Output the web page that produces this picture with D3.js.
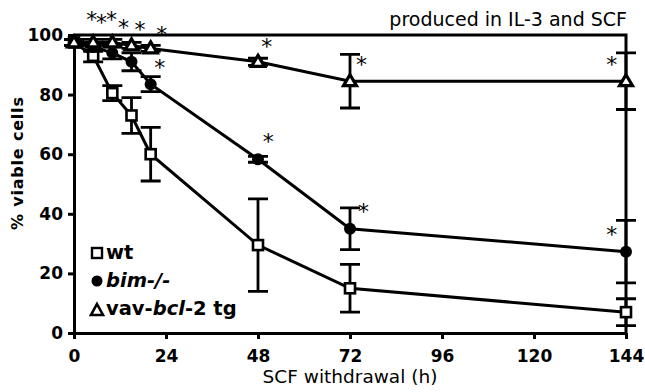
<!DOCTYPE html>
<html>
<head>
<meta charset="utf-8">
<script src="https://cdn.jsdelivr.net/npm/d3@7"></script>
<style>
  html, body { margin: 0; padding: 0; background: #fff; }
  svg { display: block; font-family: "DejaVu Sans", sans-serif; }
</style>
</head>
<body>
<svg id="chart" width="645" height="392"></svg>
<script>
// ---- data ----
const hours = [0, 5, 10, 15, 20, 48, 72, 144];
const wtMean  = [97.5, 93, 80.5, 73, 60, 29.5, 15, 7];
const wtErr   = [1, 2, 2.5, 6, 9, 15.5, 8, 4.5];
const bimMean = [97.5, 96, 94, 91, 83.5, 58.3, 35, 27.3];
const bimErr  = [1, 1.5, 2, 3, 2.5, 1, 7, 10.5];
const tgMean  = [97.5, 97.5, 97.5, 96.5, 95.5, 91, 84.5, 84.5];
const tgErr   = [1, 1, 1, 1, 1, 1.2, 9, 9.5];
const xTicks = [0, 24, 48, 72, 96, 120, 144];
const yTicks = [0, 20, 40, 60, 80, 100];
// significance asterisks (hour, % position)
const starH = [4.6, 7.2, 9.8, 12.9, 17.2, 22.9, 22.4, 50.3, 50.7, 75, 75.5, 140.3, 140.3];
const starV = [106.7, 105.7, 106.7, 104, 103.4, 101.7, 90.6, 97.8, 65.9, 91.6, 42.4, 91.6, 34.6];

const svg = d3.select("#chart");
const x = d3.scaleLinear().domain([0, 144]).range([74, 626]);
const y = d3.scaleLinear().domain([0, 100]).range([333, 35]);

// frame (top & right)
svg.append("path")
  .attr("d", `M${x(0)},${y(100)}H${x(144)}V${y(0)}`)
  .attr("fill", "none").attr("stroke", "#000").attr("stroke-width", 3);

// axes
const yAxis = svg.append("g").attr("transform", `translate(${x(0)},0)`)
  .call(d3.axisLeft(y).tickValues(yTicks).tickSize(6).tickSizeOuter(0).tickPadding(5));
const xAxis = svg.append("g").attr("transform", `translate(0,${y(0)})`)
  .call(d3.axisBottom(x).tickValues(xTicks).tickSize(6).tickSizeOuter(0).tickPadding(11));
[yAxis, xAxis].forEach(g => {
  g.select(".domain").attr("stroke-width", 3);
  g.selectAll(".tick line").attr("stroke-width", 3);
  g.selectAll(".tick text").attr("font-size", 17).attr("font-weight", "bold")
    .attr("font-family", "DejaVu Sans, sans-serif").attr("fill", "#000");
});

// axis titles
svg.append("text").attr("x", x(72)).attr("y", 383).attr("text-anchor", "middle")
  .attr("font-size", 18.5).attr("fill", "#000").text("SCF withdrawal (h)");
svg.append("text").attr("transform", `translate(23,${y(57)}) rotate(-90)`)
  .attr("text-anchor", "middle").attr("font-size", 16).attr("font-weight", "bold")
  .attr("letter-spacing", 0.8).attr("fill", "#000").text("% viable cells");
svg.append("text").attr("x", 627).attr("y", 26).attr("text-anchor", "end")
  .attr("font-size", 19).attr("fill", "#000").text("produced in IL-3 and SCF");

const series = [
  {name: "wt", mean: wtMean, err: wtErr, shape: "square"},
  {name: "bim", mean: bimMean, err: bimErr, shape: "circle"},
  {name: "tg", mean: tgMean, err: tgErr, shape: "triangle"}
];

const line = d3.line().x(d => x(d.h)).y(d => y(d.v));
const capW = 10;

series.forEach(s => {
  const pts = hours.map((h, i) => ({h, v: s.mean[i], e: s.err[i]}));
  const g = svg.append("g");
  g.append("path").datum(pts).attr("d", line)
    .attr("fill", "none").attr("stroke", "#000").attr("stroke-width", 3);
  // error bars
  g.selectAll(".eb").data(pts).enter().append("path")
    .attr("d", d => `M${x(d.h)},${y(d.v + d.e)}V${y(d.v - d.e)}` +
      `M${x(d.h) - capW},${y(d.v + d.e)}H${x(d.h) + capW}` +
      `M${x(d.h) - capW},${y(d.v - d.e)}H${x(d.h) + capW}`)
    .attr("fill", "none").attr("stroke", "#000").attr("stroke-width", 2.8);
  // markers
  if (s.shape === "square") {
    g.selectAll(".m").data(pts).enter().append("rect")
      .attr("x", d => x(d.h) - 5).attr("y", d => y(d.v) - 5)
      .attr("width", 10).attr("height", 10)
      .attr("fill", "#fff").attr("stroke", "#000").attr("stroke-width", 2.6);
  } else if (s.shape === "circle") {
    g.selectAll(".m").data(pts).enter().append("circle")
      .attr("cx", d => x(d.h)).attr("cy", d => y(d.v)).attr("r", 6)
      .attr("fill", "#000");
  } else {
    g.selectAll(".m").data(pts).enter().append("path")
      .attr("d", d => `M${x(d.h)},${y(d.v) - 6.5}L${x(d.h) + 6.5},${y(d.v) + 4.5}L${x(d.h) - 6.5},${y(d.v) + 4.5}Z`)
      .attr("fill", "#fff").attr("stroke", "#000").attr("stroke-width", 3.2)
      .attr("stroke-linejoin", "miter");
  }
});

// asterisks
svg.selectAll(".star").data(starH.map((h, i) => ({h, v: starV[i]}))).enter()
  .append("text")
  .attr("x", d => x(d.h)).attr("y", d => y(d.v)).attr("dy", "0.55em")
  .attr("text-anchor", "middle").attr("font-size", 22).attr("fill", "#000")
  .attr("font-family", "DejaVu Sans, sans-serif").text("*");

// legend
const lg = svg.append("g").attr("fill", "#000");
lg.append("rect").attr("x", 92).attr("y", 248).attr("width", 10).attr("height", 10)
  .attr("fill", "#fff").attr("stroke", "#000").attr("stroke-width", 2.4);
lg.append("text").attr("x", 106).attr("y", 259).attr("font-size", 19.5).attr("font-weight", "bold").text("wt");
lg.append("circle").attr("cx", 97).attr("cy", 281).attr("r", 5.5).attr("fill", "#000");
lg.append("text").attr("x", 106).attr("y", 287).attr("font-size", 19.5).attr("font-weight", "bold")
  .attr("font-style", "italic").text("bim-/-");
lg.append("path").attr("d", "M97,304L103,315L91,315Z").attr("fill", "#fff")
  .attr("stroke", "#000").attr("stroke-width", 2.6);
const t3 = lg.append("text").attr("x", 106).attr("y", 315).attr("font-size", 19.5).attr("font-weight", "bold");
t3.append("tspan").text("vav-");
t3.append("tspan").attr("font-style", "italic").text("bcl");
t3.append("tspan").text("-2 tg");
</script>
</body>
</html>
